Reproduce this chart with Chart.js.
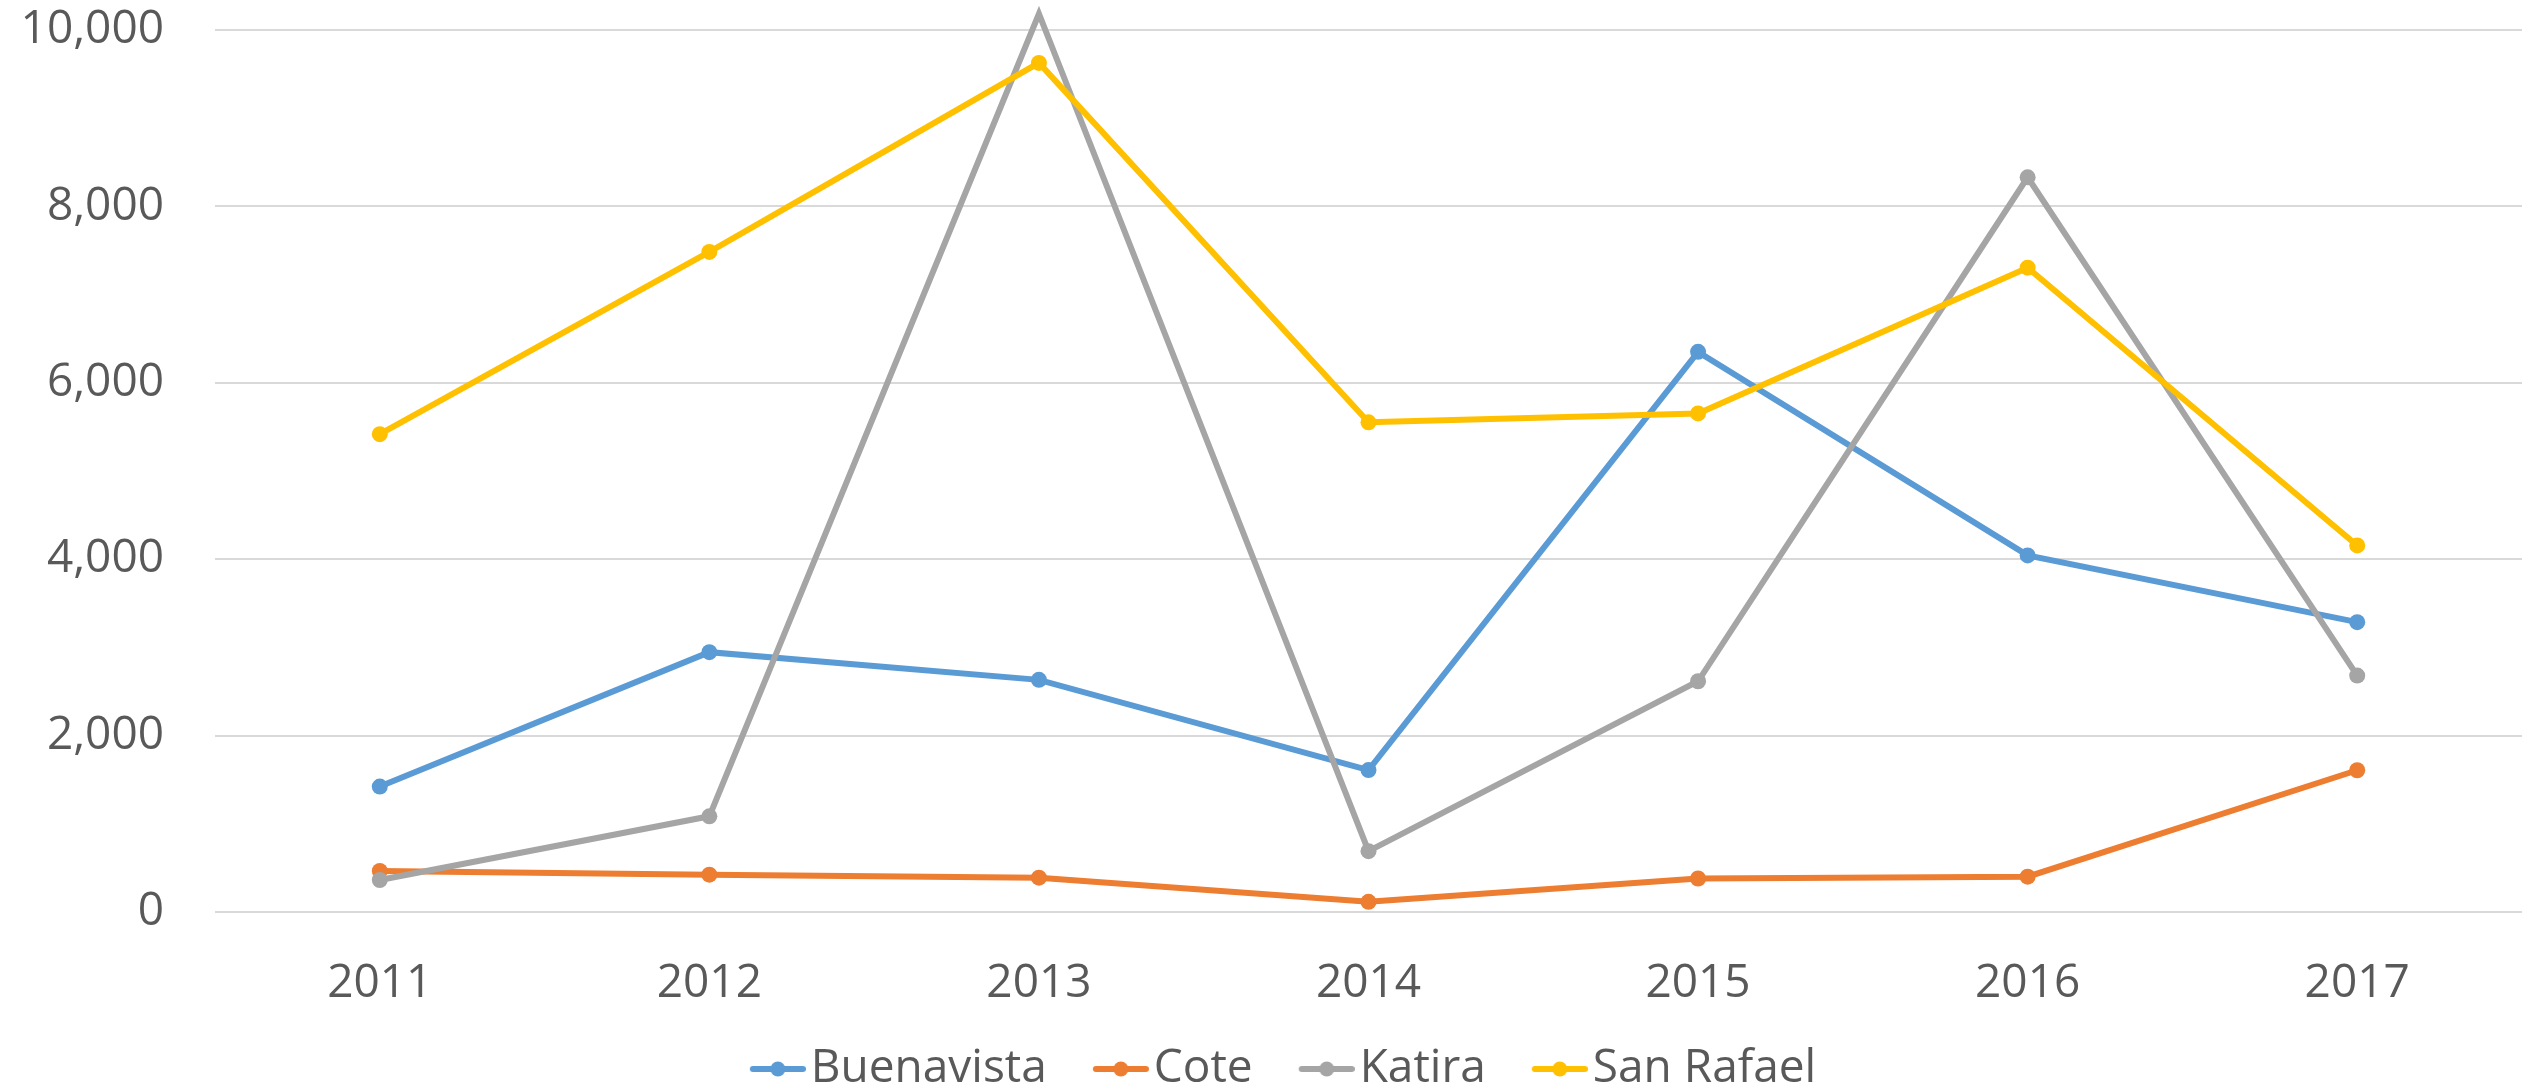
<!DOCTYPE html>
<html>
<head>
<meta charset="utf-8">
<script src="https://cdn.jsdelivr.net/npm/chart.js@4.4.1/dist/chart.umd.min.js"></script>
<style>
  html, body { margin: 0; padding: 0; background: #ffffff; overflow: hidden; }
  #wrap { width: 2530px; height: 1092px; }
</style>
</head>
<body>
<div id="wrap"><canvas id="c" width="2530" height="1092"></canvas></div>
<script>
// ---- data ----
const years = ['2011', '2012', '2013', '2014', '2015', '2016', '2017'];
const seriesNames = ['Buenavista', 'Cote', 'Katira', 'San Rafael'];
const buenavista = [1422, 2946, 2632, 1609, 6351, 4043, 3286];
const cote       = [465, 423, 389, 115, 380, 401, 1607];
const katira     = [363, 1085, 10184, 690, 2616, 8330, 2681];
const sanRafael  = [5418, 7484, 9627, 5552, 5653, 7305, 4156];
const yTicks = [0, 2000, 4000, 6000, 8000, 10000];

// ---- styles ----
const colors = ['#5B9BD5', '#ED7D31', '#A5A5A5', '#FFC000'];
const textColor = '#595959';
const gridColor = '#D9D9D9';
const FONT = "'Open Sans', 'Liberation Sans', sans-serif";
const FS = 46;
const CLEAR = 'rgba(0,0,0,0)';

// legend marker images (line + dot), with transparent space on the left
const LEG_BOX = 74;
const LEG_IMG_W = LEG_BOX + 36;
function makeLegendImg(color) {
  const cv = document.createElement('canvas');
  cv.width = LEG_IMG_W; cv.height = 18;
  const g = cv.getContext('2d');
  const x0 = LEG_IMG_W - 56, x1 = LEG_IMG_W;
  g.strokeStyle = color; g.lineWidth = 6; g.lineCap = 'round';
  g.beginPath(); g.moveTo(x0 + 3, 9); g.lineTo(x1 - 3, 9); g.stroke();
  g.fillStyle = color;
  g.beginPath(); g.arc((x0 + x1) / 2, 9, 7.5, 0, Math.PI * 2); g.fill();
  return cv;
}
const legendImgs = colors.map(makeLegendImg);

const allSeries = [buenavista, cote, katira, sanRafael];
const datasets = allSeries.map((vals, i) => ({
  label: seriesNames[i],
  data: vals,
  borderColor: colors[i],
  backgroundColor: colors[i],
  pointBackgroundColor: colors[i],
  pointBorderColor: colors[i],
  pointBorderWidth: 0,
  pointRadius: 8,
  borderWidth: 6,
  tension: 0,
  fill: false,
  clip: false,
  order: allSeries.length - i
}));

new Chart(document.getElementById('c'), {
  type: 'line',
  data: { labels: years, datasets: datasets },
  options: {
    responsive: false,
    devicePixelRatio: 1,
    animation: false,
    layout: { padding: { top: 30, left: 0, right: 0, bottom: -10 } },
    plugins: {
      tooltip: { enabled: false },
      legend: {
        position: 'bottom',
        labels: {
          usePointStyle: true,
          pointStyleWidth: LEG_BOX,
          padding: 10,
          color: textColor,
          font: { family: FONT, size: FS },
          sort: (a, b) => a.datasetIndex - b.datasetIndex,
          generateLabels(chart) {
            const items = Chart.defaults.plugins.legend.labels.generateLabels(chart);
            items.forEach(it => { it.pointStyle = legendImgs[it.datasetIndex]; });
            return items;
          }
        }
      }
    },
    scales: {
      x: {
        offset: true,
        grid: { display: true, drawOnChartArea: false, drawTicks: true, tickLength: 44, color: CLEAR, tickColor: CLEAR, offset: true },
        border: { display: false },
        ticks: { color: textColor, font: { family: FONT, size: FS }, padding: 0, maxRotation: 0, autoSkip: false },
        afterFit(scale) { scale.height = 124; }
      },
      y: {
        min: 0,
        max: 10000,
        afterBuildTicks(scale) { scale.ticks = yTicks.map(v => ({ value: v })); },
        grid: { color: gridColor, lineWidth: 2, drawTicks: true, tickLength: 51, tickColor: CLEAR },
        border: { display: false },
        ticks: {
          color: textColor,
          font: { family: FONT, size: FS },
          padding: 0,
          callback: v => Number(v).toLocaleString('en-US')
        },
        afterFit(scale) { scale.width = 215; }
      }
    }
  }
});
</script>
</body>
</html>
